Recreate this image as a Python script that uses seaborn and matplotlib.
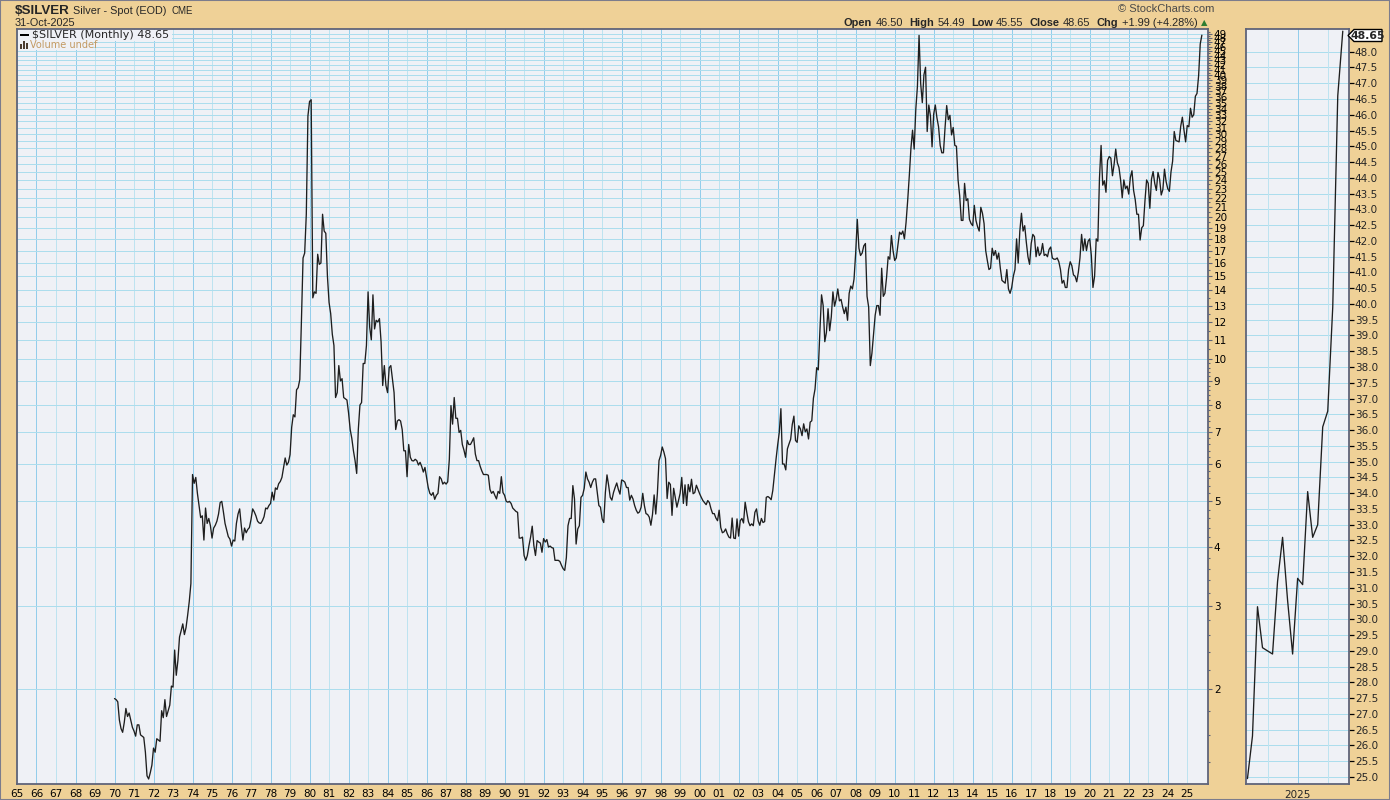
import numpy as np
import pandas as pd
import matplotlib
matplotlib.use("Agg")
import matplotlib.pyplot as plt
import seaborn as sns
from matplotlib.patches import Rectangle, Polygon
from matplotlib.ticker import FixedLocator, FixedFormatter, NullFormatter

# ---------------- data: monthly closes, Jan 1970 .. Oct 2025 ----------------
silver_1970s = [
    1.91, 1.90, 1.88, 1.72, 1.65, 1.62, 1.70, 1.82, 1.75, 1.78, 1.72, 1.66,
    1.63, 1.59, 1.68, 1.68, 1.60, 1.59, 1.58, 1.47, 1.31, 1.29, 1.33, 1.38,
    1.50, 1.47, 1.57, 1.56, 1.55, 1.80, 1.74, 1.90, 1.75, 1.80, 1.85, 2.03,
    2.02, 2.42, 2.14, 2.30, 2.58, 2.66, 2.75, 2.61, 2.70, 2.87, 3.07, 3.35,
    5.70, 5.46, 5.62, 5.20, 4.90, 4.62, 4.66, 4.14, 4.84, 4.49, 4.60, 4.44,
    4.18, 4.39, 4.45, 4.54, 4.70, 4.97, 5.00, 4.75, 4.49, 4.35, 4.21, 4.16,
    4.02, 4.14, 4.12, 4.49, 4.70, 4.82, 4.44, 4.14, 4.39, 4.29, 4.36, 4.40,
    4.58, 4.82, 4.75, 4.66, 4.54, 4.50, 4.49, 4.55, 4.64, 4.84, 4.82, 4.90,
    4.95, 5.23, 5.03, 5.34, 5.30, 5.45, 5.51, 5.62, 5.89, 6.18, 5.97, 6.05,
    6.28, 7.18, 7.63, 7.55, 8.62, 8.71, 9.06, 12.07, 16.4, 16.8, 20.3, 32.8]
silver_1980s = [
    35.2, 35.5, 13.5, 13.9, 13.8, 16.7, 15.9, 16.0, 20.3, 18.7, 18.5, 15.0,
    13.2, 12.5, 11.3, 10.7, 8.3, 8.5, 9.7, 9.0, 9.1, 8.3, 8.25, 8.2,
    7.7, 7.1, 6.8, 6.4, 6.1, 5.73, 7.1, 8.0, 8.1, 9.8, 9.8, 10.7,
    13.9, 11.7, 11.0, 13.7, 11.6, 12.1, 12.0, 12.2, 10.9, 8.8, 9.7, 8.8,
    8.5, 9.6, 9.7, 9.1, 8.5, 7.1, 7.4, 7.45, 7.4, 7.1, 6.4, 6.4,
    5.64, 6.6, 6.2, 6.1, 6.09, 6.14, 6.1, 5.97, 6.05, 5.93, 5.77, 5.9,
    5.62, 5.35, 5.2, 5.15, 5.22, 5.05, 5.15, 5.2, 5.64, 5.58, 5.44, 5.49,
    5.44, 5.5, 6.14, 7.98, 7.29, 8.3, 7.5, 7.5, 7.0, 7.07, 6.6, 6.42,
    6.2, 6.73, 6.6, 6.6, 6.7, 6.82, 6.3, 6.1, 6.1, 5.93, 5.8, 5.7,
    5.7, 5.7, 5.68, 5.3, 5.2, 5.25, 5.15, 5.06, 5.25, 5.2, 5.64, 5.22]
silver_1990s = [
    5.15, 5.0, 4.98, 5.0, 4.95, 4.84, 4.8, 4.76, 4.74, 4.18, 4.18, 4.2,
    3.84, 3.75, 3.84, 4.03, 4.2, 4.43, 4.03, 3.84, 4.13, 4.1, 4.08, 3.9,
    4.17, 4.1, 4.15, 4.0, 4.02, 3.99, 3.98, 3.75, 3.75, 3.75, 3.73, 3.66,
    3.6, 3.57, 3.8, 4.44, 4.6, 4.6, 5.4, 5.06, 4.06, 4.37, 4.44, 5.1,
    5.15, 5.33, 5.77, 5.58, 5.49, 5.35, 5.49, 5.58, 5.58, 5.22, 4.9, 4.86,
    4.59, 4.51, 5.22, 5.69, 5.41, 5.1, 5.03, 5.22, 5.35, 5.47, 5.3, 5.18,
    5.55, 5.53, 5.49, 5.35, 5.35, 5.03, 5.15, 5.06, 4.9, 4.79, 4.72, 4.75,
    4.86, 5.2, 4.9, 4.71, 4.69, 4.63, 4.45, 4.69, 5.16, 4.7, 5.2, 6.1,
    6.26, 6.52, 6.36, 6.16, 5.07, 5.49, 5.43, 4.67, 5.33, 5.10, 4.86, 5.02,
    5.2, 5.62, 4.95, 5.42, 4.9, 5.43, 5.24, 5.57, 5.19, 5.22, 5.41, 5.3]
silver_2000s = [
    5.19, 5.1, 5.02, 4.97, 4.92, 5.02, 4.97, 4.82, 4.71, 4.71, 4.61, 4.55,
    4.79, 4.40, 4.29, 4.31, 4.37, 4.27, 4.2, 4.18, 4.61, 4.18, 4.17, 4.59,
    4.22, 4.55, 4.6, 4.50, 4.98, 4.74, 4.53, 4.44, 4.48, 4.44, 4.74, 4.82,
    4.55, 4.45, 4.60, 4.51, 4.53, 5.1, 5.12, 5.09, 5.04, 5.27, 5.69, 6.14,
    6.58, 7.0, 7.86, 6.0, 6.0, 5.83, 6.46, 6.62, 6.77, 7.28, 7.58, 6.73,
    6.67, 7.23, 7.12, 6.89, 7.30, 7.02, 7.12, 6.78, 7.36, 7.41, 8.27, 8.65,
    9.6, 9.5, 11.5, 13.7, 13.0, 10.9, 11.4, 12.8, 11.5, 12.3, 13.9, 12.96,
    13.4, 14.1, 13.3, 13.4, 12.9, 12.5, 12.9, 12.1, 13.8, 14.3, 14.1, 14.8,
    16.8, 19.8, 17.2, 16.6, 16.8, 17.4, 17.6, 13.6, 12.9, 9.7, 10.3, 11.3,
    12.4, 13.0, 13.0, 12.4, 15.6, 13.6, 13.8, 14.9, 16.5, 16.3, 18.3, 17.0]
silver_2010s = [
    16.2, 16.4, 17.5, 18.6, 18.4, 18.7, 18.0, 19.5, 21.7, 24.5, 28.0, 30.6,
    27.9, 33.9, 37.9, 48.6, 38.4, 35.0, 40.1, 41.6, 30.4, 34.6, 32.8, 28.2,
    33.1, 34.6, 32.5, 31.1, 28.4, 27.4, 27.4, 31.0, 34.5, 32.2, 32.9, 29.9,
    31.0, 28.4, 28.3, 24.0, 22.2, 19.7, 19.7, 23.6, 21.7, 21.9, 19.8, 19.4,
    19.2, 21.2, 19.7, 19.1, 18.7, 21.0, 20.4, 19.4, 17.0, 16.2, 15.5, 15.6,
    17.2, 16.6, 17.0, 16.3, 16.8, 15.6, 14.7, 14.6, 14.5, 15.5, 14.1, 13.8,
    14.2, 15.0, 15.5, 18.0, 16.0, 18.7, 20.4, 18.7, 19.2, 17.7, 16.5, 15.9,
    17.6, 18.4, 18.2, 16.5, 17.3, 16.6, 16.8, 17.6, 16.6, 16.7, 16.5, 17.1,
    17.3, 16.4, 16.3, 16.3, 16.4, 16.1, 15.5, 14.5, 14.7, 14.2, 14.2, 15.5,
    16.1, 15.8, 15.1, 15.0, 14.6, 15.3, 16.4, 18.4, 17.0, 18.0, 17.0, 17.8]
silver_2020s = [
    18.0, 16.6, 14.2, 15.0, 18.0, 17.8, 24.2, 28.4, 23.4, 23.9, 22.6, 26.4,
    26.9, 26.7, 24.5, 25.9, 27.9, 26.1, 25.5, 24.0, 22.0, 24.0, 23.0, 23.3,
    22.4, 24.3, 25.1, 22.8, 21.8, 20.3, 20.3, 17.9, 19.0, 19.2, 21.7, 24.0,
    23.6, 20.9, 24.1, 25.0, 23.6, 22.8, 24.9, 24.1, 22.3, 22.9, 25.3, 23.8,
    23.0, 22.7, 24.95, 26.3, 30.4, 29.1, 29.0, 28.9, 31.2, 32.6, 30.6, 28.9,
    31.3, 31.1, 34.05, 32.6, 33.0, 36.1, 36.6, 39.9, 46.6, 48.65]

start_year = 1970
year_ticks = list(range(1965, 2026))
price_ticks = list(range(2, 50))
zoom_months = 20
zoom_ticks = [25.0 + 0.5 * i for i in range(47)]
last_close = "48.65"
ohlc_pieces = [("Open", "bold"), ("46.50", "normal"), ("High", "bold"), ("54.49", "normal"),
               ("Low", "bold"), ("45.55", "normal"), ("Close", "bold"), ("48.65", "normal"),
               ("Chg", "bold"), ("+1.99 (+4.28%)", "normal")]

# ---------------- styling ----------------
sns.set_style("white")
plt.rcParams["font.family"] = ["DejaVu Sans"]

TAN = "#EFD197"
PANEL = "#EFF1F6"
SPINE = "#5F6479"
GRID_H = "#ACDDED"
GRID_V_DARK = "#93CDEB"
GRID_V_LIGHT = "#BEE3F0"
LINE = "#1E1E1E"

W_PX, H_PX = 1390, 800
def fx(px):
    return px / W_PX
def fy(py):
    return 1 - py / H_PX

prices = np.array(silver_1970s + silver_1980s + silver_1990s + silver_2000s + silver_2010s + silver_2020s)
t = start_year + np.arange(len(prices)) / 12.0
df = pd.DataFrame({"t": t, "price": prices})
dz = df.iloc[-zoom_months:].reset_index(drop=True)

fig = plt.figure(figsize=(13.9, 8.0), dpi=100, facecolor=TAN)
renderer = fig.canvas.get_renderer()

# ---------------- main panel ----------------
top_px, bot_px = 29.3, 784.3
ax = fig.add_axes([fx(16.7), fy(bot_px), fx(1208.3) - fx(16.7), fy(top_px) - fy(bot_px)])
ax.set_facecolor(PANEL)
for yr in year_ticks:
    ax.axvline(yr, color=GRID_V_DARK if yr % 2 == 0 else GRID_V_LIGHT, lw=0.7,
               antialiased=False, zorder=0)
for v in price_ticks:
    ax.axhline(v, color=GRID_H, lw=0.7, antialiased=False, zorder=0)
sns.lineplot(data=df, x="t", y="price", ax=ax, color=LINE, lw=0.95, zorder=3)
ax.set_yscale("log")
ax.set_xlim(1964.985, 2026.08)
ax.set_ylim(1.257, 50.06)
ax.set_xlabel("")
ax.set_ylabel("")

ax.xaxis.set_major_locator(FixedLocator(year_ticks))
ax.xaxis.set_major_formatter(FixedFormatter([f"{y % 100:02d}" for y in year_ticks]))
ax.xaxis.set_minor_locator(FixedLocator([]))
ax.tick_params(axis="x", which="major", direction="out", length=3, width=0.8, pad=0.5,
               labelsize=7.5, labelcolor="black", color=SPINE)

ax.yaxis.tick_right()
ax.yaxis.set_major_locator(FixedLocator(price_ticks))
ax.yaxis.set_major_formatter(FixedFormatter([str(v) for v in price_ticks]))
minor_vals = [round(1.2 + 0.2 * i, 1) for i in range(45)
              if abs((1.2 + 0.2 * i) - round(1.2 + 0.2 * i)) > 1e-6]
minor_vals += [v + 0.5 for v in range(10, 50)]
ax.yaxis.set_minor_locator(FixedLocator([m for m in minor_vals if 1.26 < m < 50]))
ax.yaxis.set_minor_formatter(NullFormatter())
ax.tick_params(axis="y", which="major", direction="out", length=3, width=0.8, pad=1,
               labelsize=7.5, labelcolor="black", color=SPINE)
ax.tick_params(axis="y", which="minor", direction="out", length=1.5, width=0.8, color=SPINE)
for s in ax.spines.values():
    s.set_color(SPINE)
    s.set_linewidth(1.3)

# ---------------- zoom panel (last 20 months, linear) ----------------
ax2 = fig.add_axes([fx(1245.7), fy(bot_px), fx(1349.3) - fx(1245.7), fy(top_px) - fy(bot_px)])
ax2.set_facecolor(PANEL)
for v in zoom_ticks:
    ax2.axhline(v, color=GRID_H, lw=0.7, antialiased=False, zorder=0)
for xv, c in [(2024.5, GRID_V_LIGHT), (2025.0, GRID_V_DARK), (2025.5, GRID_V_LIGHT)]:
    ax2.axvline(xv, color=c, lw=0.7, antialiased=False, zorder=0)
sns.lineplot(data=dz, x="t", y="price", ax=ax2, color=LINE, lw=0.95, zorder=3)
ax2.set_xlim(dz["t"].iloc[0] - 0.35 / 12, dz["t"].iloc[-1] + 1.3 / 12)
ax2.set_ylim(24.769, 48.709)
ax2.set_xlabel("")
ax2.set_ylabel("")
ax2.xaxis.set_major_locator(FixedLocator([2025.0]))
ax2.xaxis.set_major_formatter(FixedFormatter(["2025"]))
ax2.xaxis.set_minor_locator(FixedLocator(list(dz["t"]) + [dz["t"].iloc[-1] + 1 / 12]))
ax2.tick_params(axis="x", which="major", length=0, pad=4, labelsize=7.5)
ax2.tick_params(axis="x", which="minor", direction="out", length=2, width=0.8, color=SPINE)
ax2.yaxis.tick_right()
ax2.yaxis.set_major_locator(FixedLocator(zoom_ticks))
ax2.yaxis.set_major_formatter(FixedFormatter([f"{v:.1f}" for v in zoom_ticks]))
ax2.tick_params(axis="y", which="major", direction="out", length=3.5, width=0.9, pad=0.5,
                labelsize=7.5, color="black")
for s in ax2.spines.values():
    s.set_color(SPINE)
    s.set_linewidth(1.3)

# last value tag
tag = Polygon([[fx(1348), fy(35.5)], [fx(1354), fy(29.5)], [fx(1382), fy(29.5)],
               [fx(1382), fy(41.5)], [fx(1354), fy(41.5)]], closed=True,
              transform=fig.transFigure, facecolor="white", edgecolor="black", lw=1.0, zorder=5)
fig.add_artist(tag)
fig.text(fx(1368), fy(35.7), last_close, ha="center", va="center", fontsize=7.8,
         fontweight="bold", zorder=6)

# ---------------- header ----------------
t1 = fig.text(fx(14.5), fy(10.5), "$SILVER", ha="left", va="center", fontsize=9.6,
              fontweight="bold", family="Liberation Sans")
x_next = 14.5 + t1.get_window_extent(renderer).width + 4
t2 = fig.text(fx(x_next), fy(10.5), "Silver - Spot (EOD)", ha="left", va="center", fontsize=7.8,
              family="Liberation Sans")
x_next += t2.get_window_extent(renderer).width + 5
fig.text(fx(x_next), fy(10.8), "CME", ha="left", va="center", fontsize=7.0, family="Liberation Sans")
fig.text(fx(15), fy(23), "31-Oct-2025", ha="left", va="center", fontsize=7.8, family="Liberation Sans")
fig.text(fx(1118), fy(9), "\u00a9 StockCharts.com", ha="left", va="center", fontsize=8,
         color="#4A4A4A", family="Liberation Sans")

cursor = 1197.5
for s, w in reversed(ohlc_pieces):
    tt = fig.text(fx(cursor), fy(22.5), s, ha="right", va="center", fontsize=7.9,
                  fontweight=w, family="Liberation Sans")
    bb = tt.get_window_extent(renderer)
    cursor -= bb.width + (3.5 if w == "normal" else 6.0)
fig.text(fx(1204.5), fy(22.5), "\u25B2", ha="center", va="center", fontsize=6, color="#2E7D32")

# ---------------- in-panel legend ----------------
fig.add_artist(Rectangle((fx(18), fy(41)), fx(172) - fx(18), fy(30) - fy(41),
                         transform=fig.transFigure, facecolor=PANEL, edgecolor="none", zorder=1.5))
fig.add_artist(Rectangle((fx(18), fy(50)), fx(93) - fx(18), fy(41) - fy(50),
                         transform=fig.transFigure, facecolor=PANEL, edgecolor="none", zorder=1.5))
fig.add_artist(Rectangle((fx(19.5), fy(36.3)), fx(9), 2.2 / H_PX,
                         transform=fig.transFigure, facecolor="black", edgecolor="none", zorder=2))
for bx, bh in [(19.5, 5.0), (22.5, 7.0), (25.5, 6.0)]:
    fig.add_artist(Rectangle((fx(bx), fy(48.5)), 2.0 / W_PX, bh / H_PX,
                             transform=fig.transFigure, facecolor="#4A3C30", edgecolor="none", zorder=2))
fig.text(fx(31.5), fy(35.3), "$SILVER (Monthly) 48.65", ha="left", va="center", fontsize=8, zorder=3)
fig.text(fx(30), fy(45), "Volume undef", ha="left", va="center", fontsize=7, color="#C39A62", zorder=3)

# outer frame
fig.add_artist(Rectangle((0, 0), 1, 1, transform=fig.transFigure, fill=False,
                         edgecolor="#7C7C8C", lw=1.5, zorder=10))

fig.savefig("out.png", dpi=100, facecolor=TAN)
